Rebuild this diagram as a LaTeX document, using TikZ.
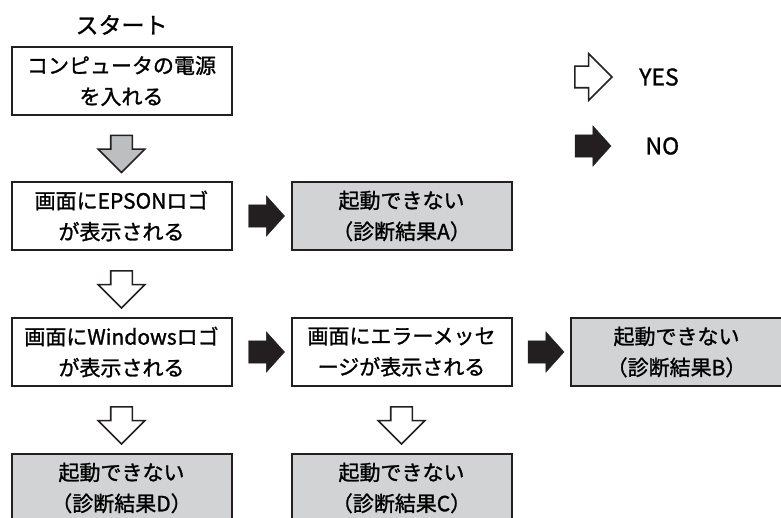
\documentclass[tikz,border=0pt]{standalone}
\usepackage{fontspec}
\newfontfamily\jp[FakeBold=1.2]{Noto Sans CJK JP}
\usepackage{xcolor}
\usepackage{tikz}
\usetikzlibrary{positioning, shapes.arrows, calc}
\definecolor{ink}{HTML}{231F20}
\definecolor{boxgray}{HTML}{D1D3D4}
\definecolor{arrowgray}{HTML}{BCBEC0}
\newcommand{\boxfont}{\jp\fontsize{21pt}{31pt}\selectfont}

\begin{document}
\begin{tikzpicture}[
  x=1pt, y=1pt,
  box/.style={rectangle, draw=ink, line width=2pt, fill=white, minimum width=220pt,
    minimum height=68pt, inner sep=0pt, outer sep=0pt, align=center, font=\boxfont},
  result/.style={box, fill=boxgray},
  yesarrow/.style={single arrow, draw=ink, line width=1.6pt, fill=white, minimum height=37pt,
    inner sep=10pt, single arrow head extend=12.5pt, single arrow tip angle=90,
    single arrow head indent=0pt},
  yesdown/.style={yesarrow, shape border rotate=270},
  graydown/.style={yesdown, fill=arrowgray},
  noarrow/.style={single arrow, draw=ink, line width=0.4pt, fill=ink, minimum height=36pt,
    inner sep=11pt, single arrow head extend=9pt, single arrow tip angle=96,
    single arrow head indent=0pt},
  legend/.style={inner sep=0pt, font=\jp\fontsize{23pt}{26pt}\selectfont},
  node distance=67pt and 60pt,
]
  \useasboundingbox (0,0) rectangle (781,-518);

  \node[box] (power) at (121.5,-81) {コンピュータの電源\\を入れる};
  \node[legend, above=12pt of power] (start) {スタート};
  \node[box, below=of power] (epson) {画面にEPSONロゴ\\が表示される};
  \node[result, right=of epson] (resA) {起動できない\\（診断結果A）};
  \node[box, below=68pt of epson] (win) {画面にWindowsロゴ\\が表示される};
  \node[box, right=of win] (err) {画面にエラーメッセ\\ージが表示される};
  \node[result, right=59pt of err, minimum width=212pt] (resB) {起動できない\\（診断結果B）};
  \node[result, below=68pt of win] (resD) {起動できない\\（診断結果D）};
  \node[result, below=68pt of err] (resC) {起動できない\\（診断結果C）};

  \node[graydown] (a0) at ($(power.south)!.5!(epson.north)$) {};
  \node[yesdown] (y1) at ($(epson.south)!.5!(win.north)$) {};
  \node[yesdown] (y2) at ($(win.south)!.5!(resD.north)$) {};
  \node[yesdown] (y3) at ($(err.south)!.5!(resC.north)$) {};
  \node[noarrow] (nA) at ($(epson.east)!.5!(resA.west)$) {};
  \node[noarrow] (nE) at ($(win.east)!.5!(err.west)$) {};
  \node[noarrow] (nB) at ($(err.east)!.5!(resB.west)$) {};

  \node[yesarrow] (keyyes) at (588,-77) {};
  \node[legend, right=26pt of keyyes] (yes) {YES};
  \node[noarrow] (keyno) at (588,-146) {};
  \node[legend, right=34pt of keyno] (no) {NO};
\end{tikzpicture}
\end{document}
